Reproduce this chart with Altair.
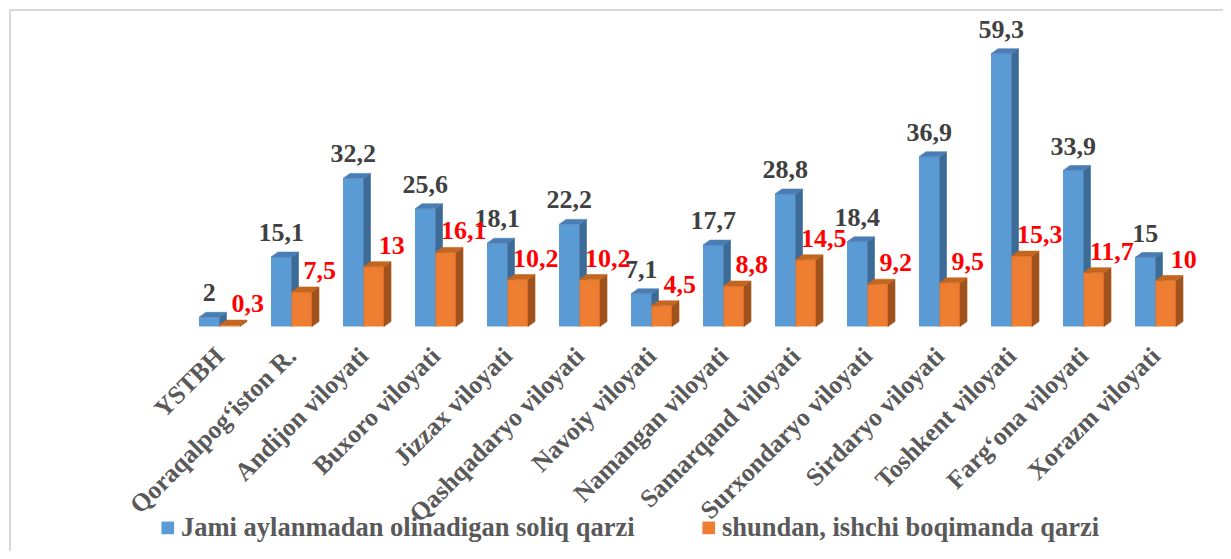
import altair as alt
import pandas as pd

categories = ["YSTBH", "Qoraqalpog‘iston R.", "Andijon viloyati", "Buxoro viloyati",
              "Jizzax viloyati", "Qashqadaryo viloyati", "Navoiy viloyati",
              "Namangan viloyati", "Samarqand viloyati", "Surxondaryo viloyati",
              "Sirdaryo viloyati", "Toshkent viloyati", "Farg‘ona viloyati", "Xorazm viloyati"]
total_debt = [2, 15.1, 32.2, 25.6, 18.1, 22.2, 7.1, 17.7, 28.8, 18.4, 36.9, 59.3, 33.9, 15]
wage_debt = [0.3, 7.5, 13, 16.1, 10.2, 10.2, 4.5, 8.8, 14.5, 9.2, 9.5, 15.3, 11.7, 10]
series_names = ["Jami aylanmadan olinadigan soliq qarzi", "shundan, ishchi boqimanda qarzi"]

FONT = "Liberation Serif, 'Times New Roman', 'DejaVu Serif', serif"
W, H = 1008, 299
YMAX = 65
px_x = W / len(categories)
px_y = H / YMAX
bw = 20.5 / px_x
dx3 = 7 / px_x
dy3 = 5 / px_y

front_rows, face_rows = [], []
for si, vals in enumerate([total_debt, wage_debt]):
    for i, v in enumerate(vals):
        c = i + 0.5
        x0 = c - bw if si == 0 else c
        x1 = x0 + bw
        lab = f"{v:g}".replace(".", ",")
        front_rows.append(dict(s=series_names[si], si=si, x0=x0, x1=x1, xc=(x0 + x1) / 2,
                               v=v, base=0, lab=lab))
        gid = f"{si}-{i}"
        face_rows += [
            dict(si=si, face="side", g=gid + "s", x=x1, y=v, y2=0),
            dict(si=si, face="side", g=gid + "s", x=x1 + dx3, y=v + dy3, y2=dy3),
            dict(si=si, face="top", g=gid + "t", x=x0, y=v, y2=v),
            dict(si=si, face="top", g=gid + "t", x=x0 + dx3, y=v + dy3, y2=v),
            dict(si=si, face="top", g=gid + "t", x=x1, y=v + dy3, y2=v),
            dict(si=si, face="top", g=gid + "t", x=x1 + dx3, y=v + dy3, y2=v + dy3),
        ]
fronts = pd.DataFrame(front_rows)
faces = pd.DataFrame(face_rows)

front_cols = ["#5b9bd5", "#ed7d31"]
face_cols = {(0, "side"): "#3d6b97", (0, "top"): "#4a7db4",
             (1, "side"): "#a1531d", (1, "top"): "#c4661f"}

xs = alt.Scale(domain=[0, len(categories)], nice=False, zero=False)
ys = alt.Scale(domain=[0, YMAX], nice=False)

# tick-label lookup built from the category list
label_expr = " : ".join(
    f"datum.value < {i + 1} ? '{name}'" for i, name in enumerate(categories[:-1])
) + f" : '{categories[-1]}'"

x_axis = alt.Axis(values=[i + 0.5 for i in range(len(categories))], labelExpr=label_expr,
                  labelAngle=-45, labelAlign="right", labelBaseline="middle",
                  labelFont=FONT, labelFontSize=25.5, labelFontWeight="bold",
                  labelColor="#595959", labelPadding=25, ticks=False, domain=False,
                  grid=False, title=None, labelOverlap=False, labelLimit=0)

legend = alt.Legend(title=None, orient="none", direction="horizontal",
                    legendX=-29, legendY=487,
                    labelFont=FONT, labelFontSize=26.5,
                    labelFontWeight="bold", labelColor="#595959",
                    symbolType="square", symbolSize=160,
                    symbolStrokeWidth=0, labelLimit=0,
                    columnPadding=60, labelOffset=0)

def X(field):
    return alt.X(field, scale=xs, axis=x_axis)

def Y(field):
    return alt.Y(field, scale=ys, axis=None, stack=None)

layers = []
for si in range(2):
    fd = fronts[fronts.si == si].reset_index(drop=True)
    layers.append(alt.Chart(fd).mark_rect(strokeWidth=0).encode(
        x=X("x0:Q"), x2="x1:Q", y=Y("v:Q"), y2="base:Q",
        color=alt.Color("s:N", scale=alt.Scale(domain=series_names, range=front_cols),
                        legend=legend),
    ))
    for face in ["side", "top"]:
        fcd = faces[(faces.si == si) & (faces.face == face)].reset_index(drop=True)
        col = face_cols[(si, face)]
        layers.append(alt.Chart(fcd).mark_area(color=col, stroke=col, strokeWidth=0.6,
                                               orient="vertical").encode(
            x=X("x:Q"), y=Y("y:Q"), y2="y2:Q", detail="g:N",
        ))

blue_lab = alt.Chart(fronts[fronts.si == 0].reset_index(drop=True)).mark_text(
    font=FONT, fontSize=26, fontWeight="bold", color="#404040",
    align="center", baseline="alphabetic", dy=-16).encode(
    x=X("xc:Q"), y=Y("v:Q"), text="lab:N")
red_lab = alt.Chart(fronts[fronts.si == 1].reset_index(drop=True)).mark_text(
    font=FONT, fontSize=26, fontWeight="bold", color="#ff0000",
    align="center", baseline="middle", dx=18, dy=-21).encode(
    x=X("xc:Q"), y=Y("v:Q"), text="lab:N")

one = alt.Data(values=[{"a": 1}])
border_top = alt.Chart(one).mark_rule(color="#d9d9d9", strokeWidth=2).encode(
    x=alt.value(-173.5), x2=alt.value(1060), y=alt.value(-17.5))
border_left = alt.Chart(one).mark_rule(color="#d9d9d9", strokeWidth=2).encode(
    x=alt.value(-173.5), y=alt.value(-17.5), y2=alt.value(540))

chart = alt.layer(*layers, blue_lab, red_lab, border_top, border_left).properties(
    width=W, height=H,
    autosize=alt.AutoSizeParams(type="none"),
    padding={"left": 175.5, "top": 19.5, "right": 31.5, "bottom": 224.5},
).configure_view(strokeWidth=0)

chart.save("out.html", embed_options={"renderer": "svg", "actions": False})
